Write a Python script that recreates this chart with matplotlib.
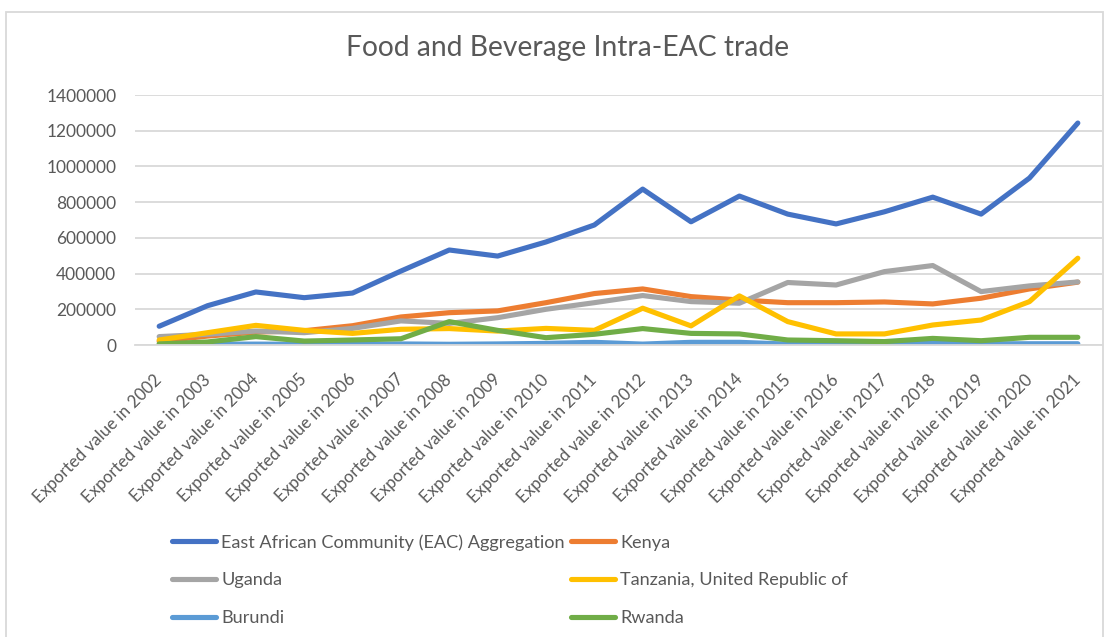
import matplotlib
matplotlib.use("Agg")
import matplotlib.pyplot as plt
import matplotlib.transforms as mtransforms
from matplotlib.patches import Rectangle
from matplotlib.ticker import StrMethodFormatter

# data
years = [str(y) for y in range(2002, 2022)]
tick_labels = ["Exported value in " + y for y in years]

eac = [105000, 220000, 297000, 265000, 291000, 414000, 532000, 498000, 577000, 672000,
       873000, 690000, 834000, 733000, 678000, 746000, 828000, 733000, 935000, 1243000]
kenya = [20000, 50000, 72000, 80000, 108000, 157000, 181000, 191000, 237000, 288000,
         314000, 271000, 252000, 237000, 237000, 241000, 230000, 262000, 314000, 352000]
uganda = [47000, 60000, 78000, 69000, 93000, 135000, 121000, 153000, 200000, 237000,
          277000, 243000, 234000, 350000, 336000, 411000, 445000, 299000, 331000, 353000]
tanzania = [28000, 69000, 110000, 82000, 65000, 88000, 92000, 78000, 93000, 82000,
            206000, 107000, 275000, 131000, 62000, 62000, 112000, 140000, 243000, 486000]
burundi = [3000, 5000, 5000, 4000, 5000, 6000, 4000, 6000, 9000, 15000,
           5000, 15000, 15000, 5000, 7000, 5000, 9000, 7000, 7000, 7000]
rwanda = [6000, 17000, 47000, 22000, 28000, 35000, 131000, 82000, 41000, 60000,
          92000, 65000, 62000, 28000, 24000, 19000, 37000, 24000, 43000, 43000]

series = [
    ("East African Community (EAC) Aggregation", eac, "#4472C4"),
    ("Kenya", kenya, "#ED7D31"),
    ("Uganda", uganda, "#A5A5A5"),
    ("Tanzania, United Republic of", tanzania, "#FFC000"),
    ("Burundi", burundi, "#5B9BD5"),
    ("Rwanda", rwanda, "#70AD47"),
]

plt.rcParams["font.family"] = ["Lato", "DejaVu Sans"]
text_col = "#595959"
grid_col = "#D9D9D9"

W, H = 1111, 637
fig = plt.figure(figsize=(W / 100, H / 100), dpi=100)

# light chart frame like the excel chart area
fig.patches.append(Rectangle((6 / W, -0.1), 1097 / W, 1.1 - 12 / H, transform=fig.transFigure,
                             fill=False, edgecolor=grid_col, linewidth=1.3))

ax = fig.add_axes([135 / W, 1 - 345 / H, 967 / W, 250 / H])

x = list(range(len(years)))
lines = {}
for name, vals, col in series:
    ln, = ax.plot(x, vals, color=col, linewidth=3.7, label=name,
                  solid_capstyle="round", solid_joinstyle="round")
    lines[name] = ln

ax.set_xlim(-0.5, len(years) - 0.5)
ax.set_ylim(0, 1400000)
ax.set_yticks(range(0, 1400001, 200000))
ax.yaxis.set_major_formatter(StrMethodFormatter("{x:.0f}"))
ax.yaxis.grid(True, color=grid_col, linewidth=1.3)
ax.set_axisbelow(True)
for s in ["top", "right", "left"]:
    ax.spines[s].set_visible(False)
ax.spines["bottom"].set_color(grid_col)
ax.spines["bottom"].set_linewidth(1.3)

ax.set_xticks(x)
ax.set_xticklabels(tick_labels, rotation=45, ha="right", va="top",
                   rotation_mode="default")
ax.tick_params(axis="x", length=0, pad=19, labelsize=12.2, labelcolor=text_col)
ax.tick_params(axis="y", length=0, pad=13.5, labelsize=12.5, labelcolor=text_col)
# nudge the rotated labels a little to the right, as in the reference
shift = mtransforms.ScaledTranslation(6 / 100, 0, fig.dpi_scale_trans)
for lab in ax.get_xticklabels():
    lab.set_transform(lab.get_transform() + shift)

fig.text(568 / W, 1 - 48 / H, "Food and Beverage Intra-EAC trade", ha="center", va="center",
         fontsize=20.3, color=text_col)

# excel fills the legend row by row, matplotlib column by column
order = ["East African Community (EAC) Aggregation", "Uganda", "Burundi",
         "Kenya", "Tanzania, United Republic of", "Rwanda"]
fig.legend([lines[n] for n in order], order, ncol=2, loc="upper left",
           bbox_to_anchor=(172 / W, 1 - 534 / H), frameon=False, fontsize=13.1,
           labelcolor=text_col, handlelength=2.4, handletextpad=0.3,
           columnspacing=0.35, labelspacing=1.2, borderpad=0, borderaxespad=0)

fig.savefig("out.png", dpi=100)
